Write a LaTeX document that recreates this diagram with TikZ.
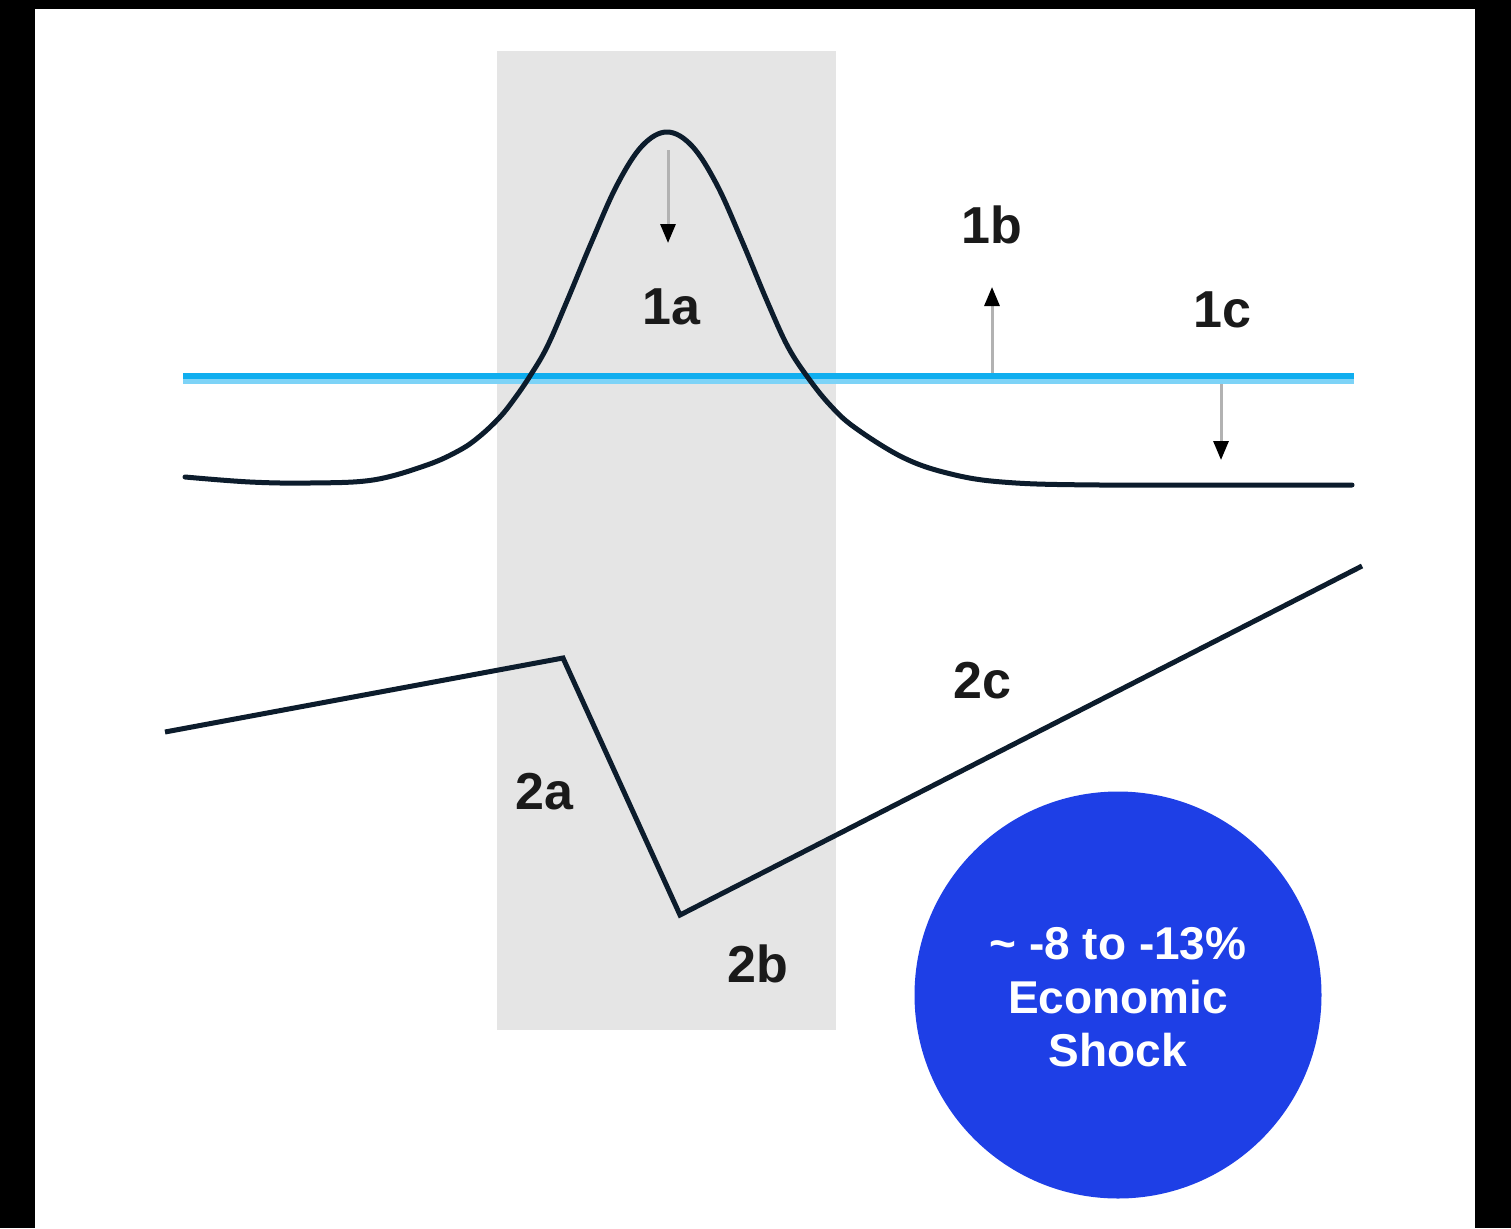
\documentclass[tikz,border=0pt]{standalone}
\usepackage{fontspec}
\setmainfont{Liberation Sans}
\usetikzlibrary{arrows.meta}
\definecolor{curvecol}{RGB}{12,28,44}
\definecolor{bandgray}{RGB}{229,229,229}
\definecolor{basedark}{RGB}{16,174,239}
\definecolor{baselight}{RGB}{125,211,247}
\definecolor{shaftgray}{RGB}{178,178,178}
\definecolor{shockblue}{RGB}{30,63,230}
\definecolor{labelcol}{RGB}{26,26,26}
\tikzset{
  curveline/.style={draw=curvecol, line width=5pt, line join=round, line cap=round},
  movearrow/.style={draw=shaftgray, line width=3pt, -{Triangle[length=19pt,width=15pt,color=black]}},
  lbl/.style={text=labelcol, font=\fontsize{52}{60}\selectfont\bfseries, inner sep=0pt},
  shocktext/.style={text=white, font=\fontsize{46}{53}\selectfont\bfseries, align=center, inner sep=0pt},
}
\begin{document}
\begin{tikzpicture}[x=1pt,y=-1pt]
\useasboundingbox (0,0) rectangle (1511,1228);
\fill[white] (0,0) rectangle (1511,1228);
% black frame
\fill[black] (0,0) rectangle (1511,9);
\fill[black] (0,0) rectangle (35,1228);
\fill[black] (1475,0) rectangle (1511,1228);
% shaded band
\fill[bandgray] (497,51) rectangle (836,1030);
% arrows
\coordinate (a1s) at (668,150);
\coordinate (a1e) at (668,243);
\coordinate (b1s) at (992,378);
\coordinate (b1e) at (992,287);
\coordinate (c1s) at (1221,378);
\coordinate (c1e) at (1221,460);
\draw[movearrow] (a1s) -- (a1e);
\draw[movearrow] (b1s) -- (b1e);
\draw[movearrow] (c1s) -- (c1e);
% baseline
\coordinate (bl) at (183,376);
\coordinate (br) at (1354,376);
\draw[baselight, line width=5pt] ([yshift=-5pt]bl) -- ([yshift=-5pt]br);
\draw[basedark, line width=6pt] (bl) -- (br);
% curve 1
\draw[curveline] plot[smooth, tension=0.6] coordinates {
 (185,477) (250,482) (310,483) (373,480) (427,465) (460,450) (480,436)
 (500,417) (515,398) (530,376) (547,347) (567,301) (592,241) (617,185)
 (642,146) (667,132) (692,146) (717,185) (742,241) (767,301) (788,347)
 (809,379) (830,405) (854,427) (902,457) (947,473) (1002,482) (1100,485) (1352,485)};
% curve 2
\coordinate (p0) at (165,732);
\coordinate (p1) at (563,658);
\coordinate (p2) at (680,915);
\coordinate (p3) at (1362,566);
\draw[curveline, line cap=butt, line join=miter] (p0) -- (p1) -- (p2) -- (p3);
% labels
\node[lbl] (l1a) at (671,307) {1a};
\node[lbl] (l1b) at (992,225) {1b};
\node[lbl] (l1c) at (1222,310) {1c};
\node[lbl] (l2a) at (544,792) {2a};
\node[lbl] (l2b) at (758,964) {2b};
\node[lbl] (l2c) at (982,681) {2c};
% shock circle
\node[circle, fill=shockblue, minimum size=407pt, inner sep=0pt] (shock) at (1118,995) {};
\node[shocktext] (st1) at (1118,944) {\textasciitilde{} -8 to -13\%};
\node[shocktext] (st2) at (1118,997) {Economic};
\node[shocktext] (st3) at (1118,1050) {Shock};
\end{tikzpicture}
\end{document}
